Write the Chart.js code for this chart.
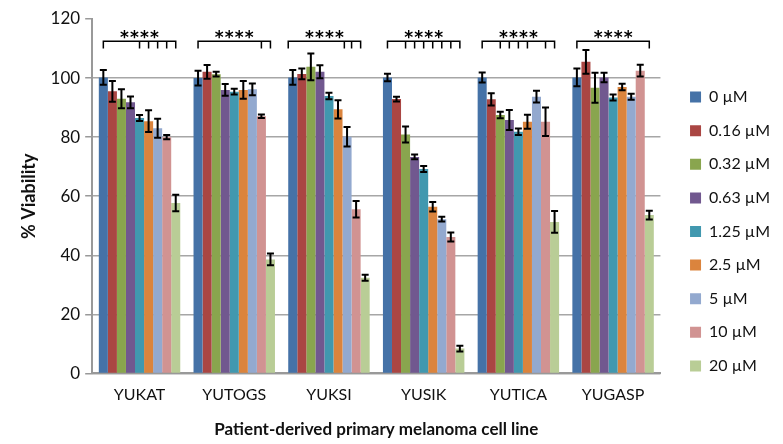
<!DOCTYPE html>
<html>
<head>
<meta charset="utf-8">
<script src="https://cdn.jsdelivr.net/npm/chart.js@4"></script>
<style>
  html, body { margin: 0; padding: 0; background: #fff; }
  #wrap { width: 783px; height: 444px; position: relative; }
</style>
</head>
<body>
<div id="wrap"><canvas id="viability"></canvas></div>
<script>
// cell lines and doses
var cellLines = ["YUKAT", "YUTOGS", "YUKSI", "YUSIK", "YUTICA", "YUGASP"];
var doses = ["0 \u00b5M", "0.16 \u00b5M", "0.32 \u00b5M", "0.63 \u00b5M", "1.25 \u00b5M", "2.5 \u00b5M", "5 \u00b5M", "10 \u00b5M", "20 \u00b5M"];

// mean % viability per dose, one entry per cell line
var v0   = [100.2, 100.0, 100.2, 100.2, 100.2, 100.2];
var v016 = [95.5, 102.1, 101.4, 92.9, 92.8, 105.5];
var v032 = [93.0, 101.3, 103.8, 80.9, 87.5, 96.7];
var v063 = [91.8, 96.0, 102.1, 73.3, 85.8, 100.2];
var v125 = [86.5, 95.4, 93.9, 69.2, 81.8, 93.4];
var v25  = [85.4, 96.0, 89.4, 56.4, 85.2, 97.0];
var v5   = [83.0, 96.2, 80.1, 52.2, 93.7, 93.7];
var v10  = [80.0, 87.1, 55.6, 46.2, 85.2, 102.5];
var v20  = [57.7, 38.6, 32.4, 8.4, 51.3, 53.6];

// error (+/-)
var e0   = [2.5, 2.5, 2.5, 1.3, 1.7, 3.0];
var e016 = [3.5, 2.3, 1.8, 0.8, 2.1, 4.0];
var e032 = [3.2, 0.8, 4.5, 2.7, 1.1, 5.1];
var e063 = [2.0, 2.0, 2.2, 0.8, 3.4, 1.6];
var e125 = [1.0, 1.0, 1.1, 1.0, 1.1, 1.0];
var e25  = [3.7, 3.0, 3.1, 1.6, 2.4, 1.1];
var e5   = [3.2, 2.0, 3.3, 0.8, 2.0, 1.0];
var e10  = [0.7, 0.6, 2.8, 1.5, 4.8, 2.0];
var e20  = [2.8, 2.0, 1.0, 1.0, 3.7, 1.5];

// significance brackets (bar index within the group)
var bracketStart = [0, 0, -0.5, 0, 0, 0];
var bracketEnd   = [8, 8, 7.5, 8, 8, 8];
var bracketTicks = [[4, 5, 6, 7], [7], [5.7, 6.5], [2, 3, 4, 5, 6, 7], [2, 3, 4, 5, 7], []];
var bracketLabel = "****";

var colors = ["#4572A7", "#AA4643", "#89A54E", "#71588F", "#4198AF", "#DB843D", "#93A9CF", "#D19392", "#B9CD96"];
var values = [v0, v016, v032, v063, v125, v25, v5, v10, v20];
var errors = [e0, e016, e032, e063, e125, e25, e5, e10, e20];

var FONT = "Lato, 'Open Sans', sans-serif";

var errorBars = {
    id: "errorBars",
    afterDatasetsDraw: function (chart) {
        var ctx = chart.ctx, y = chart.scales.y;
        ctx.save();
        ctx.strokeStyle = "#000";
        ctx.lineWidth = 2;
        chart.data.datasets.forEach(function (ds, di) {
            var meta = chart.getDatasetMeta(di);
            meta.data.forEach(function (bar, i) {
                var m = ds.data[i], e = errors[di][i];
                var top = y.getPixelForValue(m + e), bot = y.getPixelForValue(m - e);
                var cap = 3.5;
                ctx.beginPath();
                ctx.moveTo(bar.x, top); ctx.lineTo(bar.x, bot);
                ctx.moveTo(bar.x - cap, top); ctx.lineTo(bar.x + cap, top);
                ctx.moveTo(bar.x - cap, bot); ctx.lineTo(bar.x + cap, bot);
                ctx.stroke();
            });
        });
        ctx.restore();
    }
};

var brackets = {
    id: "brackets",
    afterDatasetsDraw: function (chart) {
        var ctx = chart.ctx, y = chart.scales.y;
        var first = chart.getDatasetMeta(0).data, second = chart.getDatasetMeta(1).data;
        var lineY = y.getPixelForValue(112.5), tickY = y.getPixelForValue(110);
        ctx.save();
        ctx.strokeStyle = "#000";
        ctx.fillStyle = "#000";
        ctx.lineWidth = 1.5;
        cellLines.forEach(function (c, i) {
            var x0 = first[i].x, step = second[i].x - first[i].x;
            var xs = x0 + bracketStart[i] * step, xe = x0 + bracketEnd[i] * step;
            ctx.beginPath();
            ctx.moveTo(xs, tickY); ctx.lineTo(xs, lineY); ctx.lineTo(xe, lineY); ctx.lineTo(xe, tickY);
            bracketTicks[i].forEach(function (t) {
                var xt = x0 + t * step;
                ctx.moveTo(xt, lineY); ctx.lineTo(xt, tickY);
            });
            ctx.stroke();
            ctx.font = "bold 17px 'DejaVu Sans'";
            ctx.textAlign = "center";
            ctx.textBaseline = "alphabetic";
            var mid = (xs + xe) / 2;
            for (var k = 0; k < bracketLabel.length; k++) {
                ctx.fillText("*", mid + (k - 1.5) * 10, lineY + 2);
            }
        });
        ctx.restore();
    }
};

// push the legend a bit further from the plot, like the original
var legendShift = {
    id: "legendShift",
    afterLayout: function (chart) {
        chart.legend.left += 12;
        chart.legend.right += 12;
    }
};

new Chart("viability", {
    type: "bar",
    data: {
        labels: cellLines,
        datasets: doses.map(function (d, i) {
            return {
                label: d,
                data: values[i],
                backgroundColor: colors[i],
                borderWidth: 0,
                categoryPercentage: 0.86,
                barPercentage: 1.0
            };
        })
    },
    options: {
        responsive: true,
        maintainAspectRatio: false,
        animation: false,
        layout: { padding: { left: 14, right: 15, top: 19, bottom: 0 } },
        scales: {
            x: {
                grid: { display: false, drawTicks: false },
                border: { color: "#999", width: 2 },
                ticks: { color: "#111", font: { family: FONT, size: 16 }, padding: 12 },
                title: { display: true, text: "Patient-derived primary melanoma cell line", color: "#111",
                         font: { family: FONT, size: 17, weight: "bold" }, padding: { top: 3, bottom: 4 } }
            },
            y: {
                min: 0, max: 120,
                ticks: { stepSize: 20, color: "#111", font: { family: FONT, size: 17 }, padding: 5 },
                grid: {
                    color: function (c) { return c.tick && c.tick.value === 120 ? "rgba(0,0,0,0)" : "#a6a6a6"; },
                    tickColor: "#999", lineWidth: 1.5, tickLength: 7
                },
                border: { color: "#999", width: 2 },
                title: { display: true, text: "% Viability", color: "#111",
                         font: { family: FONT, size: 18, weight: "bold" }, padding: { bottom: 6 } }
            }
        },
        plugins: {
            legend: {
                position: "right",
                labels: { boxWidth: 11, boxHeight: 11, padding: 17.6, color: "#111",
                          font: { family: FONT, size: 16 } }
            },
            tooltip: { enabled: false }
        }
    },
    plugins: [errorBars, brackets, legendShift]
});
</script>
</body>
</html>
